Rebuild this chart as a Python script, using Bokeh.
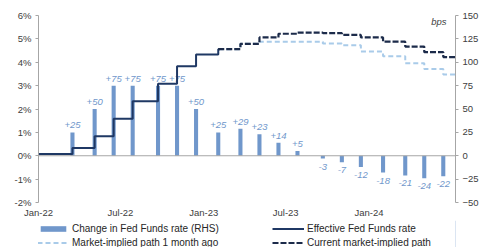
import pandas as pd
from bokeh.plotting import figure
from bokeh.layouts import column
from bokeh.models import (ColumnDataSource, Range1d, LinearAxis, FixedTicker,
                          DatetimeTickFormatter, Span, Label, Legend, LegendItem,
                          PrintfTickFormatter)
from bokeh.core.properties import value
from bokeh.embed import file_html
from bokeh.resources import INLINE

# ---------------- data ----------------
meeting_dates = ["2022-03-17", "2022-05-05", "2022-06-16", "2022-07-28", "2022-09-22",
                 "2022-11-03", "2022-12-15", "2023-02-02", "2023-03-23", "2023-05-04",
                 "2023-06-15", "2023-07-27", "2023-09-21", "2023-11-02", "2023-12-14",
                 "2024-02-01", "2024-03-21", "2024-05-02", "2024-06-13"]
change_bps = [25, 50, 75, 75, 75, 75, 50, 25, 29, 23, 14, 5, -3, -7, -12, -18, -21, -24, -22]

eff_dates = ["2022-01-01", "2022-03-17", "2022-05-05", "2022-06-16", "2022-07-28",
             "2022-09-22", "2022-11-03", "2022-12-15", "2023-02-02", "2023-02-06"]
eff_rate = [0.08, 0.33, 0.83, 1.58, 2.33, 3.08, 3.83, 4.33, 4.56, 4.56]

path_dates = ["2023-02-02", "2023-03-23", "2023-05-04", "2023-06-15", "2023-07-27",
              "2023-09-21", "2023-11-02", "2023-12-14", "2024-02-01", "2024-03-21",
              "2024-05-02", "2024-06-13", "2024-07-10"]
current_path = [4.56, 4.79, 5.06, 5.22, 5.27, 5.25, 5.17, 5.06, 4.88, 4.67, 4.43, 4.22, 4.22]
month_ago_path = [4.56, 4.79, 4.88, 4.88, 4.88, 4.80, 4.73, 4.46, 4.26, 3.96, 3.71, 3.48, 3.48]

x_ticks = ["2022-01-01", "2022-07-01", "2023-01-01", "2023-07-01", "2024-01-01"]
left_ticks = [-2, -1, 0, 1, 2, 3, 4, 5, 6]
right_ticks = [-50, -25, 0, 25, 50, 75, 100, 125, 150]

legend_labels = ["Change in Fed Funds rate (RHS)", "Market-implied path 1 month ago",
                 "Effective Fed Funds rate", "Current market-implied path"]

# ---------------- styling ----------------
FONT = "Liberation Sans"
BAR = "#7097cb"
NAVY = "#1f3864"
DARK = "#1c2b4a"
LIGHT = "#a9cbe9"
GREY = "#a6a6a6"
TXT = "#404040"

to_dt = lambda lst: [pd.Timestamp(d) for d in lst]
mdates = to_dt(meeting_dates)

bars = ColumnDataSource(dict(x=mdates, y=change_bps))
pos = ColumnDataSource(dict(
    x=[d for d, v in zip(mdates, change_bps) if v >= 0],
    y=[v for v in change_bps if v >= 0],
    lab=[f"{v:+d}" for v in change_bps if v >= 0]))
neg = ColumnDataSource(dict(
    x=[d for d, v in zip(mdates, change_bps) if v < 0],
    y=[v for v in change_bps if v < 0],
    lab=[f"{v:+d}" for v in change_bps if v < 0]))
eff = ColumnDataSource(dict(x=to_dt(eff_dates), y=eff_rate))
paths = ColumnDataSource(dict(x=to_dt(path_dates), cur=current_path, prev=month_ago_path))

p = figure(width=482, height=220, x_axis_type="datetime",
           x_range=Range1d(pd.Timestamp("2022-01-01"), pd.Timestamp("2024-07-10")),
           y_range=Range1d(-2, 6),
           output_backend="svg", toolbar_location=None,
           min_border_left=38, min_border_right=27, min_border_top=15,
           min_border_bottom=18)
p.extra_y_ranges = {"bps": Range1d(-50, 150)}
p.outline_line_color = None
p.xgrid.visible = False
p.ygrid.visible = False

# zero line
p.add_layout(Span(location=0, dimension="width", line_color=GREY, line_width=1))

day = 86400000
p.vbar(x="x", top="y", width=9 * day, source=bars, y_range_name="bps",
       color=BAR, line_color=None)
p.text(x="x", y="y", text="lab", source=pos, y_range_name="bps",
       text_font=value(FONT), text_font_size="9.5px", text_font_style="italic",
       text_color=BAR, text_align="center", text_baseline="bottom", y_offset=-4)
p.text(x="x", y="y", text="lab", source=neg, y_range_name="bps",
       text_font=value(FONT), text_font_size="9.5px", text_font_style="italic",
       text_color=BAR, text_align="center", text_baseline="top", y_offset=5)

p.step(x="x", y="prev", source=paths, mode="after", line_color=LIGHT,
       line_width=2, line_dash="5 3")
p.step(x="x", y="y", source=eff, mode="after", line_color=NAVY, line_width=2)
p.step(x="x", y="cur", source=paths, mode="after", line_color=DARK,
       line_width=2.2, line_dash="6 2")

# axes
xa = p.xaxis[0]
xa.ticker = FixedTicker(ticks=[pd.Timestamp(t).value // 10**6 for t in x_ticks])
xa.formatter = DatetimeTickFormatter(years="%b-%y", months="%b-%y", days="%b-%y",
                                     hours="%b-%y", minutes="%b-%y")
xa.axis_line_color = None
xa.major_tick_line_color = None
xa.minor_tick_line_color = None
xa.major_tick_out = 0
xa.major_tick_in = 0
xa.minor_tick_out = 0
xa.major_label_standoff = 4

ya = p.yaxis[0]
ya.ticker = FixedTicker(ticks=left_ticks)
ya.formatter = PrintfTickFormatter(format="%d%%")
ya.minor_tick_line_color = None
ya.major_tick_out = 3
ya.major_tick_in = 0
ya.major_label_standoff = 4

ra = LinearAxis(y_range_name="bps", ticker=FixedTicker(ticks=right_ticks))
ra.minor_tick_line_color = None
ra.major_tick_out = 3
ra.major_tick_in = 0
ra.major_label_standoff = 4
p.add_layout(ra, "right")

for ax in (xa, ya, ra):
    ax.major_label_text_font = FONT
    ax.major_label_text_font_size = "9.5px"
    ax.major_label_text_color = TXT
    if ax is not xa:
        ax.axis_line_color = GREY
        ax.major_tick_line_color = GREY

p.add_layout(Label(x=pd.Timestamp("2024-06-20"), y=5.73, text="bps",
                   text_font=FONT, text_font_size="9.5px", text_font_style="italic",
                   text_color=TXT, text_align="right", text_baseline="middle"))

# ---------------- legend strip ----------------
lg = figure(width=482, height=27, output_backend="svg", toolbar_location=None,
            x_axis_location=None, y_axis_location=None, min_border=0,
            x_range=Range1d(0, 1), y_range=Range1d(0, 1))
lg.outline_line_color = None
lg.xgrid.visible = False
lg.ygrid.visible = False
# legend-only swatches, kept outside the strip's visible range
l_bar = lg.vbar(x=[5], top=[5], width=1, color=BAR, line_color=None)
l_prev = lg.line(x=[5, 6], y=[5, 5], line_color=LIGHT, line_width=2, line_dash="5 3")
l_eff = lg.line(x=[5, 6], y=[5, 5], line_color=NAVY, line_width=2)
l_cur = lg.line(x=[5, 6], y=[5, 5], line_color=DARK, line_width=2.2, line_dash="6 2")

legend = Legend(items=[LegendItem(label=t, renderers=[r]) for t, r in
                       zip(legend_labels, [l_bar, l_prev, l_eff, l_cur])],
                ncols=2, location=(-1, -2), border_line_color=None,
                background_fill_alpha=0, padding=0, margin=0, spacing=0,
                glyph_width=32, glyph_height=7, label_standoff=3, label_width=200,
                label_height=14, label_text_font=FONT, label_text_font_size="10px",
                label_text_color="#262626")
lg.add_layout(legend, "center")

open("out.html", "w").write(file_html(column(p, lg, spacing=0), INLINE))
